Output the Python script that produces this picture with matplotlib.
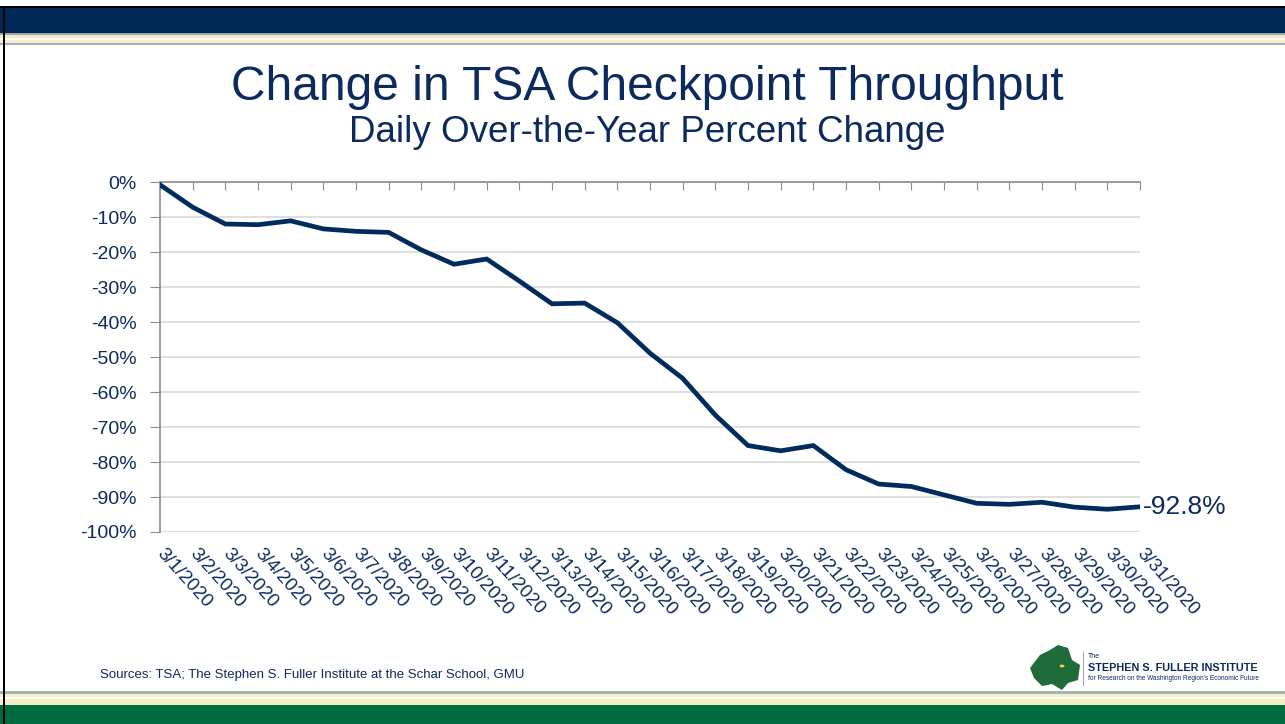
import numpy as np
import matplotlib.pyplot as plt
from matplotlib.patches import Rectangle, Polygon, Circle

plt.rcParams['font.family'] = ['Liberation Sans', 'DejaVu Sans']

# data: daily over-the-year % change, March 2020
days = [f"3/{d}/2020" for d in range(1, 32)]
pct_change = [-0.8, -7.2, -12.0, -12.2, -11.1, -13.4, -14.1, -14.4, -19.4, -23.5,
              -22.0, -28.3, -34.8, -34.6, -40.2, -48.9, -56.1, -66.6, -75.3, -76.8,
              -75.3, -82.2, -86.3, -87.0, -89.4, -91.8, -92.1, -91.5, -92.9, -93.5,
              -92.8]
yticks = list(range(0, -101, -10))
ytick_labels = [f"{v}%" for v in yticks]
end_label = "-92.8%"

navy = '#002b5c'
text_navy = '#0d2a5e'
green = '#006b3f'

fig = plt.figure(figsize=(12.85, 7.24), dpi=100)

# slide decoration (figure coords, y measured from bottom)
H = 724.0
W = 1285.0
def band(y0, y1, color, x0=0, x1=W):
    fig.patches.append(Rectangle((x0 / W, 1 - y1 / H), (x1 - x0) / W, (y1 - y0) / H,
                                 transform=fig.transFigure, color=color, lw=0, zorder=0))

band(6, 8, '#000000')
band(8, 33, '#002856')
band(33, 35, '#9aa7b3')
band(35, 38, '#f3edc4')
band(38, 40, '#ffffff')
band(40, 43, '#f6f0cf')
band(43, 45, '#a5adb3')
band(691, 694, '#a3b5ad')
band(694, 697, '#f6f0cf')
band(697, 699, '#ffffff')
band(699, 705, '#f3edc4')
band(705, 724, green)
band(6, 724, '#000000', 3, 5)

ax = fig.add_axes([160 / W, 1 - 532 / H, 980 / W, 350 / H])
x = np.arange(len(days))
ax.plot(x, pct_change, color=navy, lw=3.4, solid_joinstyle='miter', zorder=3)

ax.set_xlim(0, len(days) - 1)
ax.set_ylim(-100, 0)
ax.set_yticks(yticks)
ax.set_yticklabels(ytick_labels, fontsize=14, color=text_navy)
ax.set_xticks(x)
ax.set_xticklabels(days, fontsize=13.5, color=text_navy, rotation=-48,
                   ha='left', va='center', rotation_mode='anchor')
ax.tick_params(axis='x', bottom=False, top=True, labelbottom=True, labeltop=False,
               direction='in', length=6, color='#8c8c8c', pad=14)
ax.tick_params(axis='y', direction='out', length=7, color='#8c8c8c', pad=10)
ax.grid(axis='y', color='#d9d9d9', lw=1.2)
ax.set_axisbelow(True)
for s in ['right', 'bottom']:
    ax.spines[s].set_visible(False)
for s in ['left', 'top']:
    ax.spines[s].set_color('#8c8c8c')
    ax.spines[s].set_linewidth(1.2)

ax.annotate(end_label, xy=(x[-1], pct_change[-1]), xytext=(2, 0),
            textcoords='offset points', ha='left', va='center',
            fontsize=19, color=text_navy, annotation_clip=False)

fig.text(0.504, 1 - 88 / H, "Change in TSA Checkpoint Throughput", ha='center',
         va='center', fontsize=34.5, color=text_navy)
fig.text(0.504, 1 - 132 / H, "Daily Over-the-Year Percent Change", ha='center',
         va='center', fontsize=26.5, color=text_navy)

fig.text(100 / W, 1 - 675 / H,
         "Sources: TSA; The Stephen S. Fuller Institute at the Schar School, GMU",
         ha='left', va='center', fontsize=9.5, color=text_navy)

# logo
blob = [(1030, 668), (1040, 655), (1050, 650), (1058, 645), (1068, 648), (1072, 660),
        (1080, 665), (1078, 680), (1068, 683), (1062, 690), (1052, 684), (1042, 686),
        (1034, 678)]
fig.patches.append(Polygon([(px / W, 1 - py / H) for px, py in blob], closed=True,
                           transform=fig.transFigure, color='#1f6b3a', lw=0))
fig.patches.append(Circle((1062 / W, 1 - 666 / H), 2.5 / W,
                          transform=fig.transFigure, color='#e8d44d', lw=0))
fig.patches.append(Rectangle((1083 / W, 1 - 686 / H), 1.2 / W, 34 / H,
                             transform=fig.transFigure, color='#9aa0a6', lw=0))
fig.text(1088 / W, 1 - 657 / H, "The", fontsize=5, color=text_navy, va='center')
fig.text(1088 / W, 1 - 668 / H, "STEPHEN S. FULLER INSTITUTE", fontsize=7.8,
         fontweight='bold', color=text_navy, va='center')
fig.text(1088 / W, 1 - 679 / H,
         "for Research on the Washington Region's Economic Future", fontsize=4.7,
         color=text_navy, va='center')

fig.savefig('out.png', dpi=100)
